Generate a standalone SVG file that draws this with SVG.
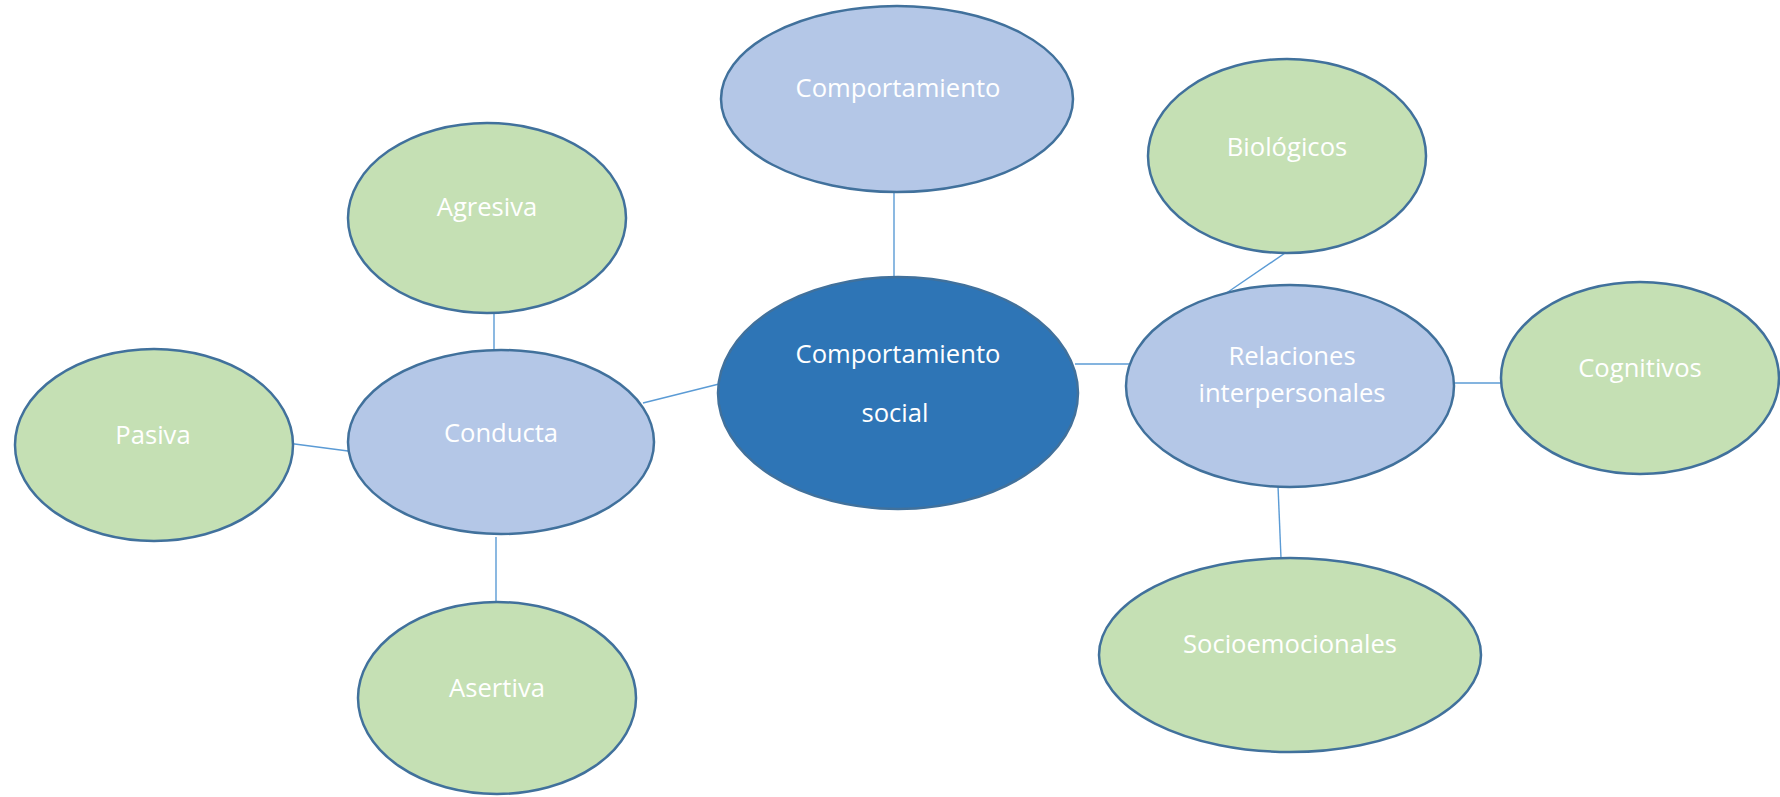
<svg xmlns="http://www.w3.org/2000/svg" width="1780" height="797" viewBox="0 0 1780 797">
<style>
.e{stroke:#41719C;stroke-width:2.5}
.g{fill:#C5E0B4}
.b{fill:#B4C7E7}
.d{fill:#2E75B6}
.t{font-family:"Open Sans","Liberation Sans",sans-serif;font-size:25.6px;fill:#FFFFFF;text-anchor:middle}
.c{stroke:#5B9BD5;stroke-width:1.4;fill:none}
</style>
<rect width="1780" height="797" fill="#FFFFFF"/>
<g id="connectors">
<line class="c" x1="894" y1="189" x2="894" y2="282"/>
<line class="c" x1="494" y1="310" x2="494" y2="350"/>
<line class="c" x1="287" y1="443" x2="348" y2="451"/>
<line class="c" x1="643" y1="403" x2="727" y2="382"/>
<line class="c" x1="1075" y1="364" x2="1134" y2="364"/>
<line class="c" x1="1288" y1="251" x2="1225" y2="294"/>
<line class="c" x1="1278" y1="486" x2="1281" y2="558"/>
<line class="c" x1="1454" y1="383" x2="1502" y2="383"/>
<line class="c" x1="496" y1="537" x2="496" y2="604"/>
</g>
<g id="comportamiento">
<ellipse class="e b" cx="897" cy="99" rx="176" ry="93"/>
<text class="t" x="898" y="97">Comportamiento</text>
</g>
<g id="biologicos">
<ellipse class="e g" cx="1287" cy="156" rx="139" ry="97"/>
<text class="t" x="1287" y="156">Biológicos</text>
</g>
<g id="agresiva">
<ellipse class="e g" cx="487" cy="218" rx="139" ry="95"/>
<text class="t" x="487" y="216">Agresiva</text>
</g>
<g id="social">
<ellipse class="e d" cx="898" cy="393" rx="180" ry="116"/>
<text class="t" x="898" y="363">Comportamiento</text>
<text class="t" x="895" y="422">social</text>
</g>
<g id="relaciones">
<ellipse class="e b" cx="1290" cy="386" rx="164" ry="101"/>
<text class="t" x="1292" y="365">Relaciones</text>
<text class="t" x="1292" y="402">interpersonales</text>
</g>
<g id="cognitivos">
<ellipse class="e g" cx="1640" cy="378" rx="139" ry="96"/>
<text class="t" x="1640" y="377">Cognitivos</text>
</g>
<g id="conducta">
<ellipse class="e b" cx="501" cy="442" rx="153" ry="92"/>
<text class="t" x="501" y="442">Conducta</text>
</g>
<g id="pasiva">
<ellipse class="e g" cx="154" cy="445" rx="139" ry="96"/>
<text class="t" x="153" y="444">Pasiva</text>
</g>
<g id="asertiva">
<ellipse class="e g" cx="497" cy="698" rx="139" ry="96"/>
<text class="t" x="497" y="697">Asertiva</text>
</g>
<g id="socioemocionales">
<ellipse class="e g" cx="1290" cy="655" rx="191" ry="97"/>
<text class="t" x="1290" y="653">Socioemocionales</text>
</g>
</svg>
